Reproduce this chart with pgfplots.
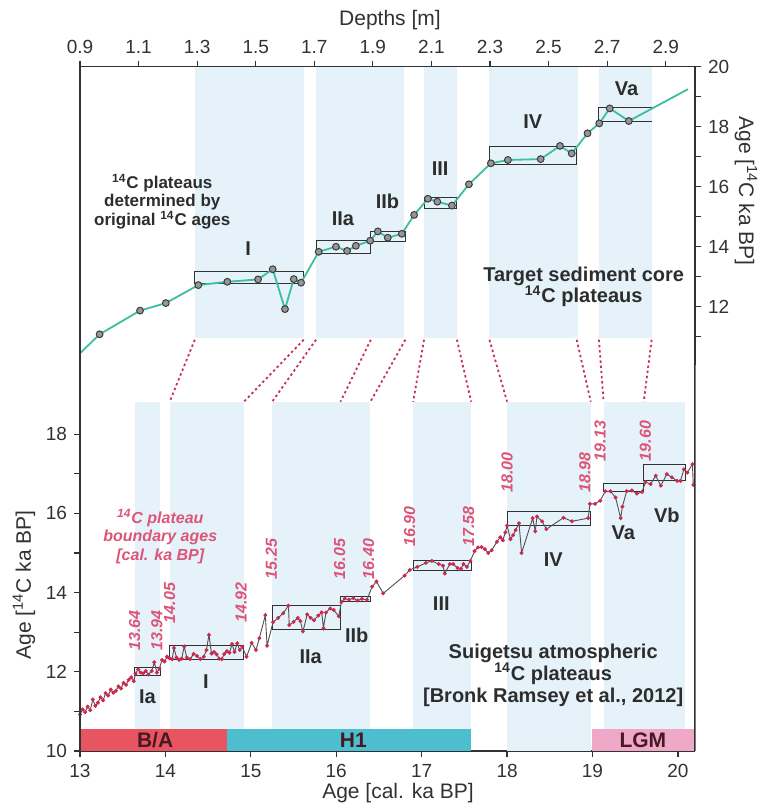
\documentclass[border=0pt]{standalone}
\usepackage{pgfplots}
\pgfplotsset{compat=1.18}
\usepackage{fontspec}
\setmainfont{Liberation Sans}
\definecolor{bandblue}{RGB}{229,242,250}
\definecolor{tealline}{RGB}{60,190,160}
\definecolor{mkgray}{RGB}{150,150,150}
\definecolor{mkdark}{RGB}{60,60,60}
\definecolor{dotred}{RGB}{205,40,80}
\definecolor{linegray}{RGB}{80,80,80}
\definecolor{lblpink}{RGB}{220,85,120}
\definecolor{connred}{RGB}{200,50,85}
\definecolor{barBA}{RGB}{232,84,96}
\definecolor{barH}{RGB}{77,190,205}
\definecolor{barLGM}{RGB}{240,168,200}
\definecolor{textdark}{RGB}{45,45,45}
\definecolor{axdark}{RGB}{50,50,50}
\definecolor{bartext}{RGB}{70,25,35}
\pgfplotsset{
  /pgf/number format/assume math mode=true,
  myax/.style={
    scale only axis, width=307.5pt,
    tick align=outside, major tick length=3pt, minor tick length=3pt,
    axis line style={axdark, line width=0.75pt},
    every tick/.style={axdark, line width=0.6pt},
    tick label style={font=\fontsize{9.5}{11}\selectfont, text=axdark},
    label style={font=\fontsize{10.5}{12}\selectfont, text=axdark},
  },
  band/.style={draw=none, fill=bandblue, forget plot},
  pbox/.style={draw=axdark, line width=0.5pt, forget plot},
}
\tikzset{
  roman/.style={font=\fontsize{10}{12}\selectfont\bfseries, text=textdark},
  blab/.style={font=\fontsize{8}{9}\selectfont\bfseries\itshape, text=lblpink, rotate=90, anchor=west, inner sep=0pt},
  conn/.style={connred, line width=0.9pt, dash pattern=on 1.2pt off 1.4pt},
}
\begin{document}
\begin{tikzpicture}
\useasboundingbox (-40pt,-27pt) rectangle (339.5pt,375.5pt);
% ---------------- bottom axis ----------------
\begin{axis}[myax, name=bot, at={(0,0)}, anchor=south west, height=193pt,
  xmin=13, xmax=20.2, ymin=10, ymax=19.747,
  axis x line*=bottom, axis y line*=left,
  xtick={13,14,15,16,17,18,19,20},
  ytick={10,12,14,16,18}, minor ytick={11,13,15,17},
  xlabel={Age [cal. ka BP]},
  ylabel={Age [\textsuperscript{14}C ka BP]},
  xlabel style={at={(axis description cs:0.517,-0.109)}, anchor=center},
  ylabel style={at={(axis description cs:-0.091,0.43)}, anchor=center},
]
% shaded plateau bands
\addplot[band] coordinates {(13.64,10) (13.94,10) (13.94,18.82) (13.64,18.82)} -- cycle;
\addplot[band] coordinates {(14.05,10) (14.92,10) (14.92,18.82) (14.05,18.82)} -- cycle;
\addplot[band] coordinates {(15.25,10) (16.40,10) (16.40,18.82) (15.25,18.82)} -- cycle;
\addplot[band] coordinates {(16.90,10) (17.58,10) (17.58,18.82) (16.90,18.82)} -- cycle;
\addplot[band] coordinates {(18.00,10) (18.98,10) (18.98,18.82) (18.00,18.82)} -- cycle;
\addplot[band] coordinates {(19.13,10) (19.60,10) (19.60,18.82) (19.13,18.82)} -- cycle;
\addplot[band] coordinates {(19.60,10) (20.08,10) (20.08,18.82) (19.60,18.82)} -- cycle;
% climate period bars
\addplot[draw=none, fill=barBA, forget plot] coordinates {(13,10) (14.72,10) (14.72,10.55) (13,10.55)} -- cycle;
\addplot[draw=none, fill=barH, forget plot] coordinates {(14.72,10) (17.58,10) (17.58,10.55) (14.72,10.55)} -- cycle;
\addplot[draw=none, fill=barLGM, forget plot] coordinates {(18.99,10) (20.2,10) (20.2,10.55) (18.99,10.55)} -- cycle;
% plateau boxes
\addplot[pbox] coordinates {(13.64,11.90) (13.94,11.90) (13.94,12.10) (13.64,12.10)} -- cycle;
\addplot[pbox] coordinates {(14.05,12.30) (14.92,12.30) (14.92,12.67) (14.05,12.67)} -- cycle;
\addplot[pbox] coordinates {(15.25,13.08) (16.05,13.08) (16.05,13.67) (15.25,13.67)} -- cycle;
\addplot[pbox] coordinates {(16.05,13.78) (16.40,13.78) (16.40,13.89) (16.05,13.89)} -- cycle;
\addplot[pbox] coordinates {(16.90,14.57) (17.58,14.57) (17.58,14.80) (16.90,14.80)} -- cycle;
\addplot[pbox] coordinates {(18.00,15.69) (18.98,15.69) (18.98,16.06) (18.00,16.06)} -- cycle;
\addplot[pbox] coordinates {(19.13,16.56) (19.60,16.56) (19.60,16.76) (19.13,16.76)} -- cycle;
\addplot[pbox] coordinates {(19.60,16.83) (20.09,16.83) (20.09,17.24) (19.60,17.24)} -- cycle;
% Suigetsu data
\addplot[linegray, line width=0.45pt, mark=*, mark size=0.75pt, mark options={fill=dotred, draw=dotred}] table {
x y
13.00 10.92
13.03 11.05
13.06 10.98
13.09 11.12
13.12 11.03
13.15 11.30
13.18 11.14
13.21 11.22
13.24 11.36
13.27 11.28
13.30 11.46
13.33 11.40
13.36 11.55
13.39 11.47
13.42 11.52
13.45 11.63
13.48 11.58
13.51 11.72
13.54 11.67
13.57 11.80
13.60 11.86
13.63 11.76
13.65 11.95
13.68 12.06
13.71 11.98
13.74 11.96
13.77 12.02
13.80 11.93
13.84 12.02
13.87 12.24
13.90 11.98
13.93 12.08
13.96 12.30
13.99 12.26
14.02 12.38
14.05 12.34
14.08 12.32
14.10 12.60
14.13 12.36
14.16 12.30
14.19 12.33
14.22 12.64
14.25 12.36
14.29 12.32
14.33 12.45
14.37 12.40
14.41 12.32
14.45 12.38
14.48 12.55
14.51 12.93
14.54 12.46
14.57 12.50
14.60 12.44
14.63 12.33
14.66 12.32
14.69 12.45
14.72 12.52
14.75 12.48
14.78 12.70
14.81 12.50
14.84 12.72
14.87 12.55
14.90 12.63
14.95 12.38
15.01 12.73
15.06 12.55
15.10 12.85
15.17 13.43
15.19 12.66
15.26 13.25
15.32 13.36
15.38 13.48
15.44 13.67
15.45 13.18
15.50 13.26
15.55 13.36
15.58 13.28
15.61 13.02
15.66 13.45
15.70 13.36
15.74 13.30
15.79 13.42
15.83 13.50
15.85 13.10
15.88 13.50
15.93 13.60
15.97 13.56
16.03 13.40
16.06 13.76
16.10 13.85
16.15 13.82
16.20 13.86
16.25 13.80
16.30 13.84
16.36 13.82
16.42 14.15
16.47 14.28
16.55 13.98
16.80 14.43
16.86 14.57
16.95 14.65
17.05 14.75
17.12 14.80
17.20 14.72
17.25 14.68
17.27 14.48
17.33 14.72
17.37 14.72
17.42 14.62
17.46 14.60
17.49 14.72
17.53 14.65
17.57 14.80
17.62 15.05
17.66 15.14
17.70 15.15
17.74 15.10
17.78 15.00
17.82 15.07
17.88 15.28
17.92 15.40
17.95 15.32
17.98 15.52
18.00 15.69
18.04 15.35
18.07 15.45
18.10 15.58
18.14 15.75
18.17 15.00
18.30 15.88
18.33 15.55
18.35 15.92
18.41 15.80
18.46 15.60
18.66 15.89
18.76 15.80
18.95 15.88
18.97 16.24
19.03 16.24
19.09 16.32
19.15 16.56
19.21 16.56
19.27 16.40
19.33 15.88
19.35 16.17
19.40 16.56
19.46 16.58
19.52 16.50
19.58 16.54
19.62 16.79
19.68 16.74
19.74 16.95
19.80 16.70
19.87 16.99
19.93 16.91
19.99 16.82
20.03 16.82
20.07 17.11
20.11 17.03
20.17 17.24
20.18 16.72
};
% period labels
\node[font=\fontsize{10.5}{12}\selectfont\bfseries, text=bartext] at (axis cs:13.88,10.27) {B/A};
\node[font=\fontsize{10.5}{12}\selectfont\bfseries, text=bartext] at (axis cs:16.2,10.27) {H1};
\node[font=\fontsize{10.5}{12}\selectfont\bfseries, text=bartext] at (axis cs:19.59,10.27) {LGM};
% plateau names
\node[roman] at (axis cs:13.79,11.37) {Ia};
\node[roman] at (axis cs:14.475,11.75) {I};
\node[roman] at (axis cs:15.70,12.38) {IIa};
\node[roman] at (axis cs:16.24,12.93) {IIb};
\node[roman] at (axis cs:17.23,13.73) {III};
\node[roman] at (axis cs:18.54,14.82) {IV};
\node[roman] at (axis cs:19.36,15.50) {Va};
\node[roman] at (axis cs:19.87,15.96) {Vb};
% boundary ages
\node[blab] at (axis cs:13.64,12.53) {13.64};
\node[blab] at (axis cs:13.90,12.53) {13.94};
\node[blab] at (axis cs:14.05,13.22) {14.05};
\node[blab] at (axis cs:14.885,13.24) {14.92};
\node[blab] at (axis cs:15.24,14.33) {15.25};
\node[blab] at (axis cs:16.04,14.33) {16.05};
\node[blab] at (axis cs:16.38,14.33) {16.40};
\node[blab] at (axis cs:16.86,15.16) {16.90};
\node[blab] at (axis cs:17.55,15.16) {17.58};
\node[blab] at (axis cs:18.00,16.51) {18.00};
\node[blab] at (axis cs:18.91,16.51) {18.98};
\node[blab] at (axis cs:19.09,17.31) {19.13};
\node[blab] at (axis cs:19.62,17.31) {19.60};
% annotations
\node[font=\fontsize{8}{9.2}\selectfont\bfseries\itshape, text=lblpink, align=center] at (axis cs:13.94,15.42)
  {\textsuperscript{14}C plateau\\boundary ages\\{[}cal. ka BP]};
\node[font=\fontsize{10}{11}\selectfont\bfseries, text=textdark, align=center] at (axis cs:18.54,11.92)
  {Suigetsu atmospheric\\\textsuperscript{14}C plateaus\\{[}Bronk Ramsey et al., 2012]};
% connection anchors
\coordinate (b1) at (axis cs:14.05,18.82);
\coordinate (b2) at (axis cs:14.92,18.82);
\coordinate (b3) at (axis cs:15.25,18.82);
\coordinate (b4) at (axis cs:16.05,18.82);
\coordinate (b5) at (axis cs:16.40,18.82);
\coordinate (b6) at (axis cs:16.90,18.82);
\coordinate (b7) at (axis cs:17.58,18.82);
\coordinate (b8) at (axis cs:18.00,18.82);
\coordinate (b9) at (axis cs:18.98,18.82);
\coordinate (b10) at (axis cs:19.13,18.82);
\coordinate (b11) at (axis cs:19.60,18.82);
\end{axis}
% ---------------- top axis ----------------
\begin{axis}[myax, name=top, at={(0,193pt)}, anchor=south west, height=149.15pt,
  xmin=0.9, xmax=3.0, ymin=10.057, ymax=20,
  axis x line*=top, axis y line*=right,
  xtick={0.9,1.1,1.3,1.5,1.7,1.9,2.1,2.3,2.5,2.7,2.9},
  xticklabels={0.9,1.1,1.3,1.5,1.7,1.9,2.1,2.3,2.5,2.7,2.9},
  ytick={12,14,16,18,20}, minor ytick={11,13,15,17,19},
  xlabel={Depths [m]},
  ylabel={Age [\textsuperscript{14}C ka BP]},
  xlabel style={at={(axis description cs:0.504,1.157)}, anchor=center},
  ylabel style={at={(axis description cs:1.083,0.583)}, anchor=center, rotate=180},
]
\addplot[band] coordinates {(1.292,10.96) (1.664,10.96) (1.664,20) (1.292,20)} -- cycle;
\addplot[band] coordinates {(1.706,10.96) (2.005,10.96) (2.005,20) (1.706,20)} -- cycle;
\addplot[band] coordinates {(2.075,10.96) (2.187,10.96) (2.187,20) (2.075,20)} -- cycle;
\addplot[band] coordinates {(2.298,10.96) (2.600,10.96) (2.600,20) (2.298,20)} -- cycle;
\addplot[band] coordinates {(2.672,10.96) (2.852,10.96) (2.852,20) (2.672,20)} -- cycle;
% plateau boxes
\addplot[pbox] coordinates {(1.292,12.77) (1.664,12.77) (1.664,13.17) (1.292,13.17)} -- cycle;
\addplot[pbox] coordinates {(1.706,13.76) (1.893,13.76) (1.893,14.22) (1.706,14.22)} -- cycle;
\addplot[pbox] coordinates {(1.893,14.19) (2.011,14.19) (2.011,14.52) (1.893,14.52)} -- cycle;
\addplot[pbox] coordinates {(2.075,15.28) (2.187,15.28) (2.187,15.65) (2.075,15.65)} -- cycle;
\addplot[pbox] coordinates {(2.298,16.75) (2.596,16.75) (2.596,17.33) (2.298,17.33)} -- cycle;
\addplot[pbox] coordinates {(2.852,18.65) (2.672,18.65) (2.672,18.17) (2.852,18.17)};
% sediment core data
\addplot[tealline, line width=0.9pt, forget plot] table {
x y
0.900 10.45
0.967 11.08
1.105 11.87
1.193 12.12
1.304 12.72
1.403 12.83
1.508 12.91
1.558 13.25
1.600 11.92
1.630 12.92
1.655 12.80
1.715 13.83
1.774 14.00
1.812 13.86
1.842 14.03
1.891 14.20
1.917 14.51
1.951 14.30
1.999 14.43
2.041 15.06
2.088 15.60
2.120 15.50
2.170 15.37
2.228 16.08
2.303 16.78
2.361 16.89
2.473 16.92
2.539 17.36
2.579 17.11
2.633 17.78
2.673 18.11
2.709 18.61
2.774 18.19
2.976 19.25
};
\addplot[only marks, mark=*, mark size=1.7pt, mark options={fill=mkgray, draw=mkdark, line width=0.5pt}] table {
x y
0.967 11.08
1.105 11.87
1.193 12.12
1.304 12.72
1.403 12.83
1.508 12.91
1.558 13.25
1.600 11.92
1.630 12.92
1.655 12.80
1.715 13.83
1.774 14.00
1.812 13.86
1.842 14.03
1.891 14.20
1.917 14.51
1.951 14.30
1.999 14.43
2.041 15.06
2.088 15.60
2.120 15.50
2.170 15.37
2.228 16.08
2.303 16.78
2.361 16.89
2.473 16.92
2.539 17.36
2.579 17.11
2.633 17.78
2.673 18.11
2.709 18.61
2.774 18.19
};
\node[roman] at (axis cs:1.474,13.95) {I};
\node[roman] at (axis cs:1.798,14.94) {IIa};
\node[roman] at (axis cs:1.950,15.50) {IIb};
\node[roman] at (axis cs:2.130,16.61) {III};
\node[roman] at (axis cs:2.446,18.17) {IV};
\node[roman] at (axis cs:2.766,19.28) {Va};
\node[font=\fontsize{8.5}{9.3}\selectfont\bfseries, text=textdark, align=center] at (axis cs:1.181,15.5)
  {\textsuperscript{14}C plateaus\\determined by\\original \textsuperscript{14}C ages};
\node[font=\fontsize{10}{10.6}\selectfont\bfseries, text=textdark, align=center] at (axis cs:2.62,12.67)
  {Target sediment core\\\textsuperscript{14}C plateaus};
\coordinate (t1) at (axis cs:1.292,10.9);
\coordinate (t2) at (axis cs:1.664,10.9);
\coordinate (t3) at (axis cs:1.706,10.9);
\coordinate (t4) at (axis cs:1.893,10.9);
\coordinate (t5) at (axis cs:2.011,10.9);
\coordinate (t6) at (axis cs:2.075,10.9);
\coordinate (t7) at (axis cs:2.187,10.9);
\coordinate (t8) at (axis cs:2.298,10.9);
\coordinate (t9) at (axis cs:2.596,10.9);
\coordinate (t10) at (axis cs:2.672,10.9);
\coordinate (t11) at (axis cs:2.852,10.9);
\end{axis}
% outer spines
\draw[axdark, line width=0.75pt] (top.north west) -- (bot.south west);
\draw[axdark, line width=0.75pt] (top.north east) -- (bot.south east);
% connectors
\foreach \i in {1,...,11} { \draw[conn] (t\i) -- (b\i); }
\end{tikzpicture}
\end{document}
